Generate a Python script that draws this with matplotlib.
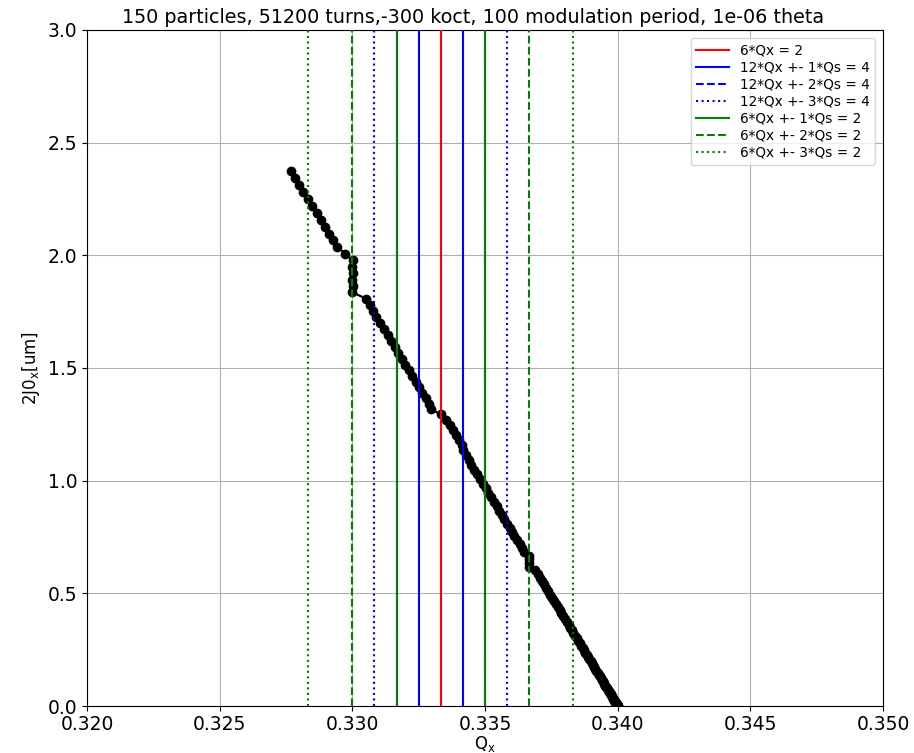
import matplotlib
matplotlib.use("Agg")
import matplotlib.pyplot as plt

# Initial action 2J0x [um] of each tracked particle
J0x = [
    0.0000, 0.0001, 0.0004, 0.0010, 0.0017, 0.0027, 0.0039, 0.0052, 0.0068, 0.0087,
    0.0107, 0.0129, 0.0154, 0.0181, 0.0210, 0.0241, 0.0274, 0.0309, 0.0347, 0.0386,
    0.0428, 0.0472, 0.0518, 0.0566, 0.0616, 0.0669, 0.0723, 0.0780, 0.0839, 0.0900,
    0.0963, 0.1028, 0.1095, 0.1165, 0.1237, 0.1310, 0.1386, 0.1465, 0.1545, 0.1627,
    0.1712, 0.1798, 0.1887, 0.1978, 0.2071, 0.2166, 0.2264, 0.2363, 0.2465, 0.2569,
    0.2675, 0.2783, 0.2893, 0.3005, 0.3120, 0.3236, 0.3355, 0.3476, 0.3599, 0.3724,
    0.3851, 0.3981, 0.4112, 0.4246, 0.4382, 0.4520, 0.4660, 0.4802, 0.4947, 0.5093,
    0.5242, 0.5393, 0.5546, 0.5701, 0.5858, 0.6018, 0.6179, 0.6343, 0.6509, 0.6677,
    0.6847, 0.7019, 0.7194, 0.7370, 0.7549, 0.7729, 0.7912, 0.8097, 0.8284, 0.8474,
    0.8665, 0.8859, 0.9055, 0.9253, 0.9453, 0.9655, 0.9859, 1.0066, 1.0274, 1.0485,
    1.0698, 1.0913, 1.1130, 1.1349, 1.1571, 1.1794, 1.2020, 1.2248, 1.2478, 1.2710,
    1.2945, 1.3181, 1.3420, 1.3661, 1.3904, 1.4148, 1.4396, 1.4645, 1.4896, 1.5150,
    1.5405, 1.5663, 1.5923, 1.6185, 1.6449, 1.6716, 1.6984, 1.7255, 1.7528, 1.7803,
    1.8080, 1.8359, 1.8640, 1.8924, 1.9209, 1.9497, 1.9787, 2.0079, 2.0373, 2.0669,
    2.0968, 2.1268, 2.1571, 2.1876, 2.2183, 2.2492, 2.2804, 2.3117, 2.3433, 2.3750,
]

# Measured horizontal tune of each particle
Qx = [
    0.34000, 0.34000, 0.34000, 0.33999, 0.33999, 0.33999, 0.33998, 0.33997, 0.33996, 0.33996,
    0.33994, 0.33993, 0.33992, 0.33991, 0.33989, 0.33988, 0.33986, 0.33984, 0.33982, 0.33980,
    0.33978, 0.33976, 0.33973, 0.33971, 0.33968, 0.33966, 0.33963, 0.33960, 0.33957, 0.33954,
    0.33950, 0.33947, 0.33944, 0.33940, 0.33936, 0.33933, 0.33929, 0.33925, 0.33920, 0.33916,
    0.33912, 0.33907, 0.33903, 0.33898, 0.33893, 0.33888, 0.33883, 0.33878, 0.33873, 0.33868,
    0.33862, 0.33857, 0.33851, 0.33845, 0.33839, 0.33833, 0.33827, 0.33821, 0.33815, 0.33808,
    0.33802, 0.33795, 0.33788, 0.33781, 0.33774, 0.33767, 0.33760, 0.33753, 0.33745, 0.33738,
    0.33730, 0.33722, 0.33714, 0.33706, 0.33698, 0.33690, 0.33667, 0.33667, 0.33667, 0.33667,
    0.33647, 0.33639, 0.33630, 0.33620, 0.33611, 0.33602, 0.33593, 0.33583, 0.33573, 0.33564,
    0.33554, 0.33544, 0.33534, 0.33523, 0.33513, 0.33503, 0.33492, 0.33482, 0.33471, 0.33460,
    0.33449, 0.33438, 0.33427, 0.33416, 0.33414, 0.33403, 0.33391, 0.33379, 0.33367, 0.33352,
    0.33333, 0.33295, 0.33289, 0.33276, 0.33264, 0.33251, 0.33239, 0.33226, 0.33213, 0.33200,
    0.33187, 0.33173, 0.33160, 0.33146, 0.33133, 0.33119, 0.33105, 0.33091, 0.33077, 0.33065,
    0.33051, 0.33000, 0.33001, 0.33000, 0.33001, 0.33000, 0.33001, 0.32972, 0.32944, 0.32928,
    0.32912, 0.32897, 0.32881, 0.32866, 0.32849, 0.32831, 0.32815, 0.32800, 0.32784, 0.32768,
]

Qs = 0.01

# Resonance lines: (harmonic, order, sideband multiple of Qs, colour, style)
resonances = [
    (6, 2, 0, "r", "-"),
    (12, 4, 1, "b", "-"),
    (12, 4, 2, "b", "--"),
    (12, 4, 3, "b", ":"),
    (6, 2, 1, "g", "-"),
    (6, 2, 2, "g", "--"),
    (6, 2, 3, "g", ":"),
]

fig = plt.figure(figsize=(9.14, 7.53), dpi=100)
ax = fig.add_axes([0.0952, 0.0624, 0.8709, 0.8978])

ax.plot(Qx, J0x, "-o", color="k", markersize=6.0, linewidth=1.6, zorder=2)

for n, p, m, c, ls in resonances:
    if m == 0:
        ax.axvline(p / n, color=c, linestyle=ls, linewidth=1.5, label=f"{n}*Qx = {p}", zorder=3)
    else:
        lab = f"{n}*Qx +- {m}*Qs = {p}"
        ax.axvline((p - m * Qs) / n, color=c, linestyle=ls, linewidth=1.5, label=lab, zorder=3)
        ax.axvline((p + m * Qs) / n, color=c, linestyle=ls, linewidth=1.5, zorder=3)

ax.set_xlim(0.32, 0.35)
ax.set_ylim(0.0, 3.0)
ax.set_xticks([0.320, 0.325, 0.330, 0.335, 0.340, 0.345, 0.350])
ax.set_xticklabels(["0.320", "0.325", "0.330", "0.335", "0.340", "0.345", "0.350"])
ax.set_yticks([0.0, 0.5, 1.0, 1.5, 2.0, 2.5, 3.0])
ax.set_yticklabels(["0.0", "0.5", "1.0", "1.5", "2.0", "2.5", "3.0"])
ax.tick_params(labelsize=13.5)
ax.tick_params(axis="x", pad=3)
ax.grid(True, color="#b0b0b0", linewidth=0.8)
ax.set_axisbelow(True)

ax.set_xlabel(r"Q$_\mathrm{x}$", fontsize=12, labelpad=0)
ax.set_ylabel(r"2J0$_\mathrm{x}$[um]", fontsize=12)
ax.set_title("150 particles, 51200 turns,-300 koct, 100 modulation period, 1e-06 theta",
             fontsize=13.8, x=0.485, pad=5)
ax.legend(loc="upper right", fontsize=9.8, handlelength=2.4, labelspacing=0.22,
          borderaxespad=0.6)

fig.savefig("out.png", dpi=100)
